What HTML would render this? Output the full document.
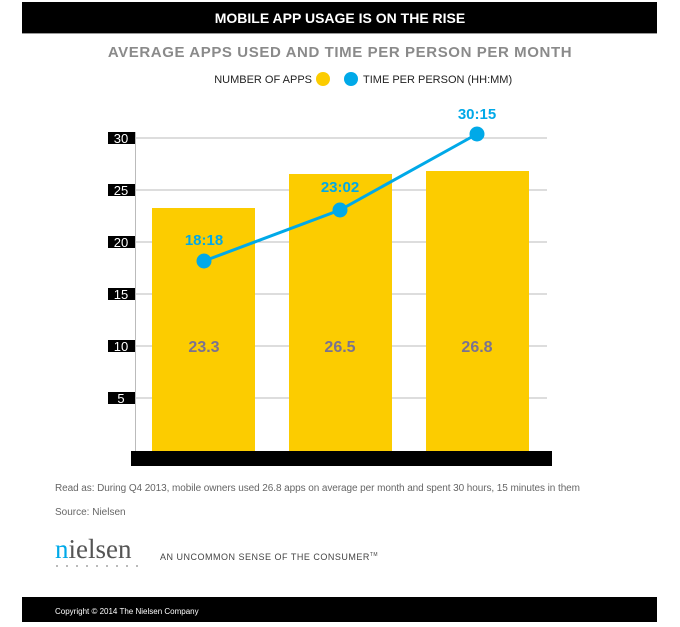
<!DOCTYPE html>
<html><head><style>
body{margin:0;background:#fff;width:680px;height:622px;overflow:hidden;font-family:"Liberation Sans",sans-serif;}
</style></head><body>
<svg width="680" height="622" xmlns="http://www.w3.org/2000/svg" font-family="Liberation Sans, sans-serif">
<rect x="22" y="2" width="635" height="31" fill="#000"/>
<line x1="22" y1="33.5" x2="657" y2="33.5" stroke="#999"/>
<text x="340" y="23" fill="#fff" font-size="14" font-weight="bold" text-anchor="middle">MOBILE APP USAGE IS ON THE RISE</text>
<text x="340" y="57" fill="#8a8a8a" font-size="15" font-weight="bold" text-anchor="middle" letter-spacing="0.6">AVERAGE APPS USED AND TIME PER PERSON PER MONTH</text>
<text x="312" y="83" fill="#222" font-size="11" text-anchor="end">NUMBER OF APPS</text>
<circle cx="323" cy="79" r="7" fill="#fccc00"/>
<circle cx="351" cy="79" r="7" fill="#00a9e8"/>
<text x="363" y="83" fill="#222" font-size="11">TIME PER PERSON  (HH:MM)</text>
<g stroke="#bbb" stroke-width="1">
<line x1="135" y1="138" x2="547" y2="138"/><line x1="135" y1="190" x2="547" y2="190"/>
<line x1="135" y1="242" x2="547" y2="242"/><line x1="135" y1="294" x2="547" y2="294"/>
<line x1="135" y1="346" x2="547" y2="346"/><line x1="135" y1="398" x2="547" y2="398"/>
<line x1="135.5" y1="132" x2="135.5" y2="451"/>
</g>
<g font-size="13" fill="#fff" text-anchor="middle">
<rect x="108" y="132" width="27" height="12" fill="#000"/><text x="121" y="143">30</text>
<rect x="108" y="184" width="27" height="12" fill="#000"/><text x="121" y="195">25</text>
<rect x="108" y="236" width="27" height="12" fill="#000"/><text x="121" y="247">20</text>
<rect x="108" y="288" width="27" height="12" fill="#000"/><text x="121" y="299">15</text>
<rect x="108" y="340" width="27" height="12" fill="#000"/><text x="121" y="351">10</text>
<rect x="108" y="392" width="27" height="12" fill="#000"/><text x="121" y="403">5</text>
</g>
<rect x="152" y="208" width="103" height="243" fill="#fccc00"/>
<rect x="289" y="174" width="103" height="277" fill="#fccc00"/>
<rect x="426" y="171" width="103" height="280" fill="#fccc00"/>
<rect x="131" y="451" width="421" height="15" fill="#000"/>
<g font-size="16" font-weight="bold" fill="#7a7290" text-anchor="middle">
<text x="204" y="352">23.3</text><text x="340" y="352">26.5</text><text x="477" y="352">26.8</text>
</g>
<polyline points="204,261 340,210 477,134" fill="none" stroke="#00a9e8" stroke-width="3"/>
<g fill="#00a9e8"><circle cx="204" cy="261" r="7.5"/><circle cx="340" cy="210" r="7.5"/><circle cx="477" cy="134" r="7.5"/></g>
<g font-size="15" font-weight="bold" fill="#00a9e8" text-anchor="middle">
<text x="204" y="245">18:18</text><text x="340" y="192">23:02</text><text x="477" y="119">30:15</text>
</g>
<text x="55" y="491" font-size="10" fill="#666" textLength="525">Read as: During Q4 2013, mobile owners used 26.8 apps on average per month and spent 30 hours, 15 minutes in them</text>
<text x="55" y="515" font-size="10" fill="#666">Source: Nielsen</text>
<text x="55" y="558" font-size="27" font-family="Liberation Serif, serif" fill="#555"><tspan fill="#00a9e8">n</tspan>ielsen</text>
<g fill="#888"><circle cx="57" cy="566" r="0.9"/><circle cx="67" cy="566" r="0.9"/><circle cx="77" cy="566" r="0.9"/><circle cx="87" cy="566" r="0.9"/><circle cx="97" cy="566" r="0.9"/><circle cx="107" cy="566" r="0.9"/><circle cx="117" cy="566" r="0.9"/><circle cx="127" cy="566" r="0.9"/><circle cx="137" cy="566" r="0.9"/></g>
<text x="160" y="560" font-size="9" fill="#444" letter-spacing="0.5">AN UNCOMMON SENSE OF THE CONSUMER<tspan font-size="5" dy="-4">TM</tspan></text>
<rect x="22" y="597" width="635" height="25" fill="#000"/>
<text x="55" y="614" font-size="8" fill="#fff">Copyright © 2014 The Nielsen Company</text>
</svg>
</body></html>
